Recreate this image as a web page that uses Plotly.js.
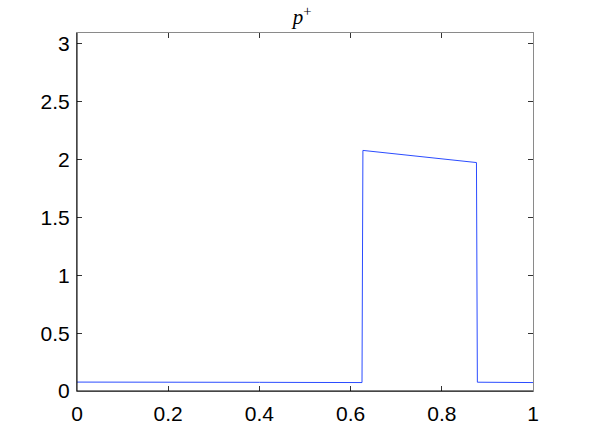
<!DOCTYPE html>
<html>
<head>
<meta charset="utf-8">
<script src="https://cdn.plot.ly/plotly-3.0.1.min.js"></script>
<style>
  html, body { margin: 0; padding: 0; background: #fff; }
  #graph { width: 589px; height: 441px; }
</style>
</head>
<body>
<div id="graph"></div>
<script>
// p+ profile
const xVals = [0, 0.1, 0.2, 0.3, 0.4, 0.5, 0.6, 0.625, 0.627, 0.876, 0.878, 0.95, 1];
const pPlus = [0.077, 0.075, 0.073, 0.072, 0.075, 0.074, 0.073, 0.073, 2.08, 1.975, 0.076, 0.074, 0.073];

const xTicks = [0, 0.2, 0.4, 0.6, 0.8, 1];
const xTickText = ['0', '0.2', '0.4', '0.6', '0.8', '1'];
const yTicks = [0, 0.5, 1, 1.5, 2, 2.5, 3];
const yTickText = ['0', '0.5', '1', '1.5', '2', '2.5', '3'];

let data = [{
    x: xVals,
    y: pPlus,
    type: 'scatter',
    mode: 'lines',
    line: {color: '#2b4cff', width: 1},
    hoverinfo: 'none'
}];

let axisStyle = {
    showgrid: false,
    zeroline: false,
    showline: true,
    linecolor: '#8a8a8a',
    linewidth: 1,
    mirror: 'ticks',
    ticks: 'inside',
    ticklen: 5,
    tickwidth: 1,
    tickcolor: '#333',
    tickfont: {family: 'Liberation Sans, Arial, sans-serif', size: 21, color: '#000'}
};

let layout = {
    width: 589,
    height: 441,
    showlegend: false,
    paper_bgcolor: '#fff',
    plot_bgcolor: '#fff',
    margin: {l: 77, r: 56, t: 33, b: 50},
    title: {
        text: '<i>p</i><sup>+</sup>',
        font: {family: 'Liberation Serif, DejaVu Serif, serif', size: 21, color: '#000'},
        x: 0.513,
        xanchor: 'center',
        y: 0.978,
        yanchor: 'top'
    },
    xaxis: Object.assign({}, axisStyle, {
        range: [0, 1],
        tickvals: xTicks,
        ticktext: xTickText,
        ticklabelstandoff: 4
    }),
    yaxis: Object.assign({}, axisStyle, {
        range: [0, 3.095],
        tickvals: yTicks,
        ticktext: yTickText,
        ticklabelstandoff: 2
    }),
    shapes: [
        {type: 'line', xref: 'paper', yref: 'paper', x0: 0, x1: 1, y0: 0, y1: 0, line: {color: '#000', width: 1}},
        {type: 'line', xref: 'paper', yref: 'paper', x0: 0, x1: 0, y0: 0, y1: 1, line: {color: '#000', width: 1}}
    ]
};

let config = {displayModeBar: false, staticPlot: true};

Plotly.newPlot('graph', data, layout, config);
</script>
</body>
</html>
